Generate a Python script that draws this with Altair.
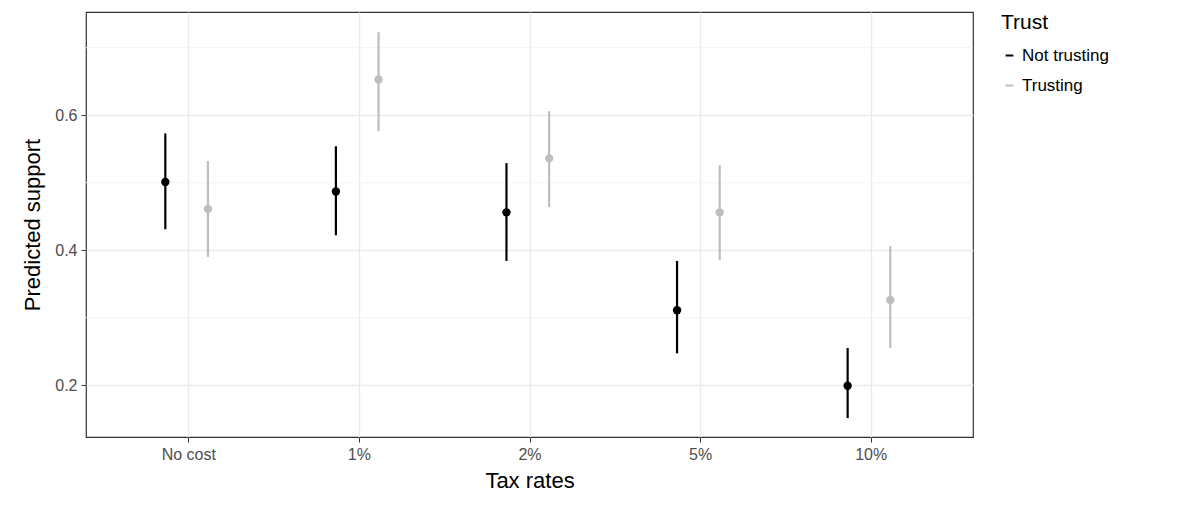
import altair as alt
import pandas as pd

categories = ["No cost", "1%", "2%", "5%", "10%"]
not_trusting = [0.501, 0.487, 0.456, 0.311, 0.199]
not_trusting_lo = [0.431, 0.422, 0.384, 0.247, 0.151]
not_trusting_hi = [0.573, 0.554, 0.529, 0.384, 0.255]
trusting = [0.461, 0.653, 0.536, 0.456, 0.326]
trusting_lo = [0.390, 0.576, 0.464, 0.385, 0.255]
trusting_hi = [0.532, 0.723, 0.606, 0.526, 0.406]

rows = []
for i, c in enumerate(categories):
    rows.append({"idx": i, "cat": c, "Trust": "Not trusting", "est": not_trusting[i],
                 "lo": not_trusting_lo[i], "hi": not_trusting_hi[i], "off": -0.135})
    rows.append({"idx": i, "cat": c, "Trust": "Trusting", "est": trusting[i],
                 "lo": trusting_lo[i], "hi": trusting_hi[i], "off": 0.115})
df = pd.DataFrame(rows)

label_expr = "[" + ",".join(f"'{c}'" for c in categories) + "][datum.value]"
trust_scale = alt.Scale(domain=["Not trusting", "Trusting"], range=["#000000", "#bebebe"])
color = alt.Color("Trust:N", scale=trust_scale,
                  legend=alt.Legend(title="Trust", titleFontSize=21, labelFontSize=17,
                                    titleFont="Arial", labelFont="Arial", titleFontWeight="normal",
                                    titleColor="black", labelColor="black", offset=28,
                                    symbolSize=60, titlePadding=14, rowPadding=12,
                                    symbolType="stroke", symbolStrokeWidth=2))

x = alt.X("xp:Q", scale=alt.Scale(domain=[-0.6, 4.6], nice=False, zero=False),
          axis=alt.Axis(values=[0, 1, 2, 3, 4], labelExpr=label_expr, title="Tax rates",
                        grid=True, gridColor="#ebebeb", gridWidth=1.4))
y_scale = alt.Scale(domain=[0.123, 0.753], nice=False, zero=False)
y_axis = alt.Axis(values=[0.2, 0.4, 0.6], format=".1f", title="Predicted support",
                  grid=True, gridColor="#ebebeb", gridWidth=1.4)

base = alt.Chart(df).transform_calculate(xp="datum.idx + datum.off")
rules = base.mark_rule(strokeWidth=2.2).encode(
    x=x, y=alt.Y("lo:Q", scale=y_scale, axis=y_axis), y2="hi:Q", color=color)
points = base.mark_circle(size=70, opacity=1).encode(
    x=x, y=alt.Y("est:Q", scale=y_scale, axis=y_axis),
    color=alt.Color("Trust:N", legend=None, scale=trust_scale))

minor = alt.Chart(pd.DataFrame({"v": [0.3, 0.5, 0.7]})).mark_rule(color="#f3f3f3", strokeWidth=1).encode(
    y=alt.Y("v:Q", scale=y_scale))

chart = alt.layer(minor, rules, points).properties(
    width=887, height=425, autosize="none",
    padding={"left": 78, "top": 4, "right": 219, "bottom": 69}
).configure_view(stroke="#333333", strokeWidth=1.2).configure_axis(
    labelFont="Arial", titleFont="Arial", labelFontSize=16, titleFontSize=22,
    labelColor="#4d4d4d", titleColor="black", titleFontWeight="normal",
    tickColor="#333333", domain=False, tickSize=5, labelPadding=4
).configure_axisX(titlePadding=8).configure_axisY(titlePadding=10)

chart.save("out.html", embed_options={"renderer": "svg", "actions": False})
